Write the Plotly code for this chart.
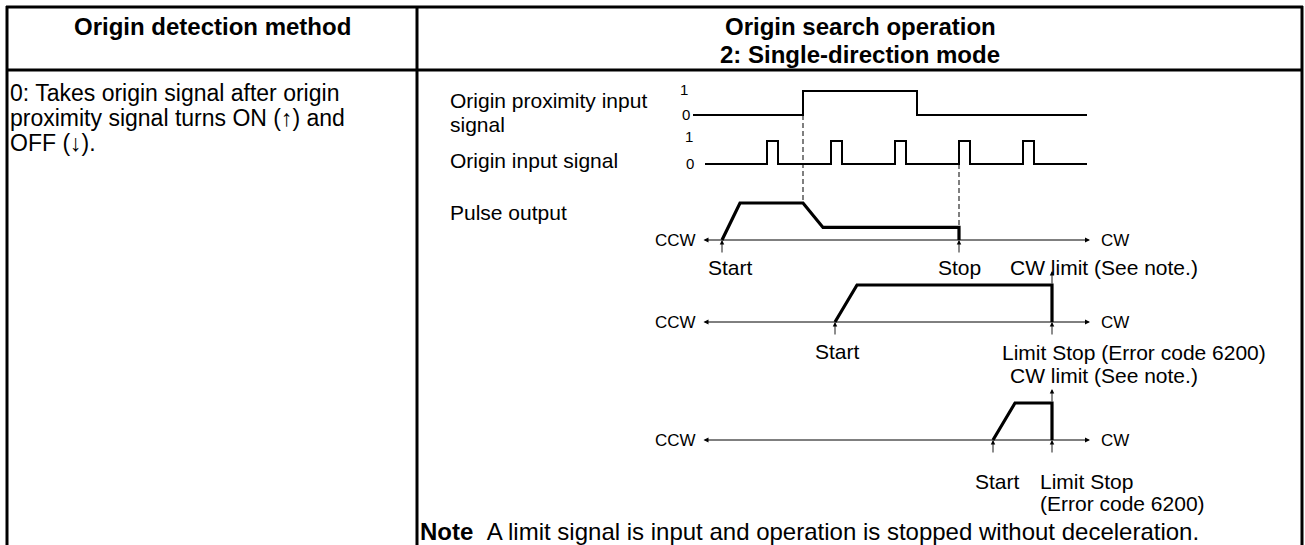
import plotly.graph_objects as go

W, H = 1305, 545
FONT = "Liberation Sans, Arial, Helvetica, sans-serif"

# ---------------- data ----------------
# origin proximity input signal (position, level)
prox_x = [693, 803, 803, 917, 917, 1087]
prox_lv = [0, 0, 1, 1, 0, 0]
# origin input signal: rising edges of pulses, pulse width, start/end of trace
org_rise = [767, 831, 895, 959, 1023]
org_width = 11
org_span = [705, 1087]
# pulse output speed profiles (position, relative speed)
prof1_x = [722, 740, 803, 823, 959, 959]
prof1_v = [0, 1, 1, 0.34, 0.34, 0]
prof2_x = [835, 857, 1052, 1052]
prof2_v = [0, 1, 1, 0]
prof3_x = [993, 1015, 1052, 1052]
prof3_v = [0, 1, 1, 0]
axis_span = [702, 1090]

# ---------------- layout helpers ----------------
# name: (pixel of value 0, pixels per unit)
SPEC = {
    "y2": (115, 24),   # proximity
    "y3": (164, 23),   # origin input
    "y4": (240, 37),   # profile 1
    "y5": (322, 37),   # profile 2
    "y6": (440, 37),   # profile 3
}


def pix(ax, v):
    p0, s = SPEC[ax]
    return p0 - v * s


def level_axis(ax, pad=14):
    p0, s = SPEC[ax]
    ptop, pbot = p0 - s - pad, p0 + pad
    vbot = (p0 - pbot) / s
    vtop = (p0 - ptop) / s
    return dict(domain=[1 - pbot / H, 1 - ptop / H], range=[vbot, vtop],
                visible=False, fixedrange=True, anchor="x")


# build origin input signal from its edges
org_x = [org_span[0]]
org_lv = [0]
for r in org_rise:
    org_x += [r, r, r + org_width, r + org_width]
    org_lv += [0, 1, 1, 0]
org_x.append(org_span[1])
org_lv.append(0)

fig = go.Figure()

# dashed reference lines (page axis y is in pixels)
dash1_x = prox_x[1]
dash2_x = prof1_x[-1]
for dx, ya, yb in [(dash1_x, pix("y2", 0), pix("y4", 1)),
                   (dash2_x, pix("y3", 0), pix("y4", prof1_v[-2]))]:
    fig.add_trace(go.Scatter(x=[dx, dx], y=[ya, yb], mode="lines",
                             line=dict(color="#555", width=1.5, dash="5px,3px"),
                             hoverinfo="skip", showlegend=False))


def wave(x, y, ax, width):
    fig.add_trace(go.Scatter(x=x, y=y, yaxis=ax, mode="lines",
                             line=dict(color="black", width=width),
                             hoverinfo="skip", showlegend=False))


wave(prox_x, prox_lv, "y2", 2)
wave(org_x, org_lv, "y3", 2)
wave(prof1_x, prof1_v, "y4", 3.2)
wave(prof2_x, prof2_v, "y5", 3.2)
wave(prof3_x, prof3_v, "y6", 3.2)

ann = []


def text(t, x, y, size=21, xanchor="left", color="black"):
    ann.append(dict(text=t, x=x, y=y, xref="x", yref="y", showarrow=False,
                    xanchor=xanchor, yanchor="middle",
                    font=dict(family=FONT, size=size, color=color)))


# direction axes with arrows
for ax in ["y4", "y5", "y6"]:
    ann.append(dict(text="", x=axis_span[1], y=0, xref="x", yref=ax,
                    ax=axis_span[0], ay=0, axref="x", ayref=ax,
                    showarrow=True, arrowhead=2, arrowside="end+start",
                    arrowsize=1, arrowwidth=1, arrowcolor="black"))
    text("CCW", axis_span[0] - 4, pix(ax, 0), size=17, xanchor="right")
    text("CW", axis_span[1] + 9, pix(ax, 0), size=17)


def up_arrow(x, ax, length=14):
    ann.append(dict(text="", x=x, y=0, xref="x", yref=ax, ax=0, ay=length,
                    showarrow=True, arrowhead=2, arrowsize=1, arrowwidth=0.9,
                    arrowcolor="black", standoff=0))


up_arrow(prof1_x[0], "y4")
up_arrow(prof1_x[-1], "y4")
up_arrow(prof2_x[0], "y5")
up_arrow(prof2_x[-1], "y5")
up_arrow(prof3_x[0], "y6")
up_arrow(prof3_x[-1], "y6")

# CW limit markers above the flat top
for ax, xs in [("y5", prof2_x), ("y6", prof3_x)]:
    ann.append(dict(text="", x=xs[-1], y=1 + 14 / 37, xref="x", yref=ax,
                    ax=xs[-1], ay=1, axref="x", ayref=ax,
                    showarrow=True, arrowhead=2, arrowsize=1, arrowwidth=0.9,
                    arrowcolor="black", standoff=0))

# headers
text("<b>Origin detection method</b>", 212, 26, size=24, xanchor="center")
text("<b>Origin search operation</b>", 860, 26, size=24, xanchor="center")
text("<b>2: Single-direction mode</b>", 860, 54, size=24, xanchor="center")

# left body
body = ["0: Takes origin signal after origin",
        "proximity signal turns ON (\u2191) and",
        "OFF (\u2193)."]
for i, line in enumerate(body):
    text(line, 8, 93 + 25 * i, size=23)

# signal labels
text("Origin proximity input", 448, 100)
text("signal", 448, 124)
text("Origin input signal", 448, 160)
text("Pulse output", 448, 212)
text("1", 684, pix("y2", 1) - 2, size=15, xanchor="center")
text("0", 686, pix("y2", 0) - 1, size=15, xanchor="center")
text("1", 689, pix("y3", 1) - 5, size=15, xanchor="center")
text("0", 690, pix("y3", 0) - 1, size=15, xanchor="center")

# profile labels
text("Start", prof1_x[0] + 8, 267, xanchor="center")
text("Stop", prof1_x[-1], 267, xanchor="center")
text("CW limit (See note.)", 1008, 267)
text("Start", prof2_x[0] + 2, 351, xanchor="center")
text("Limit Stop (Error code 6200)", 1000, 352)
text("CW limit (See note.)", 1008, 375)
text("Start", prof3_x[0] + 4, 481, xanchor="center")
text("Limit Stop", 1038, 481)
text("(Error code 6200)", 1038, 503)

# note
text("<b>Note</b>\u00a0\u00a0A limit signal is input and operation is stopped without deceleration.",
     418, 531, size=24)

# table lines
shapes = []


def hline(y, x0, x1, w=3):
    shapes.append(dict(type="line", xref="x", yref="y", x0=x0, x1=x1, y0=y, y1=y,
                       line=dict(color="black", width=w)))


def vline(x, y0, y1, w=3):
    shapes.append(dict(type="line", xref="x", yref="y", x0=x, x1=x, y0=y0, y1=y1,
                       line=dict(color="black", width=w)))


hline(7, 6, 1303)
hline(70, 6, 1303)
vline(7, 6, H + 5)
vline(417, 6, H + 5)
vline(1302, 6, H + 5)

layout_axes = {
    "xaxis": dict(range=[0, W], domain=[0, 1], visible=False, fixedrange=True),
    "yaxis": dict(range=[H, 0], domain=[0, 1], visible=False, fixedrange=True),
}
for ax in SPEC:
    layout_axes["yaxis" + ax[1:]] = level_axis(ax)

fig.update_layout(width=W, height=H, margin=dict(l=0, r=0, t=0, b=0),
                  paper_bgcolor="white", plot_bgcolor="rgba(0,0,0,0)",
                  annotations=ann, shapes=shapes, showlegend=False,
                  **layout_axes)

fig.write_html("out.html", config={"displayModeBar": False},
               post_script="document.body.style.margin='0';")
